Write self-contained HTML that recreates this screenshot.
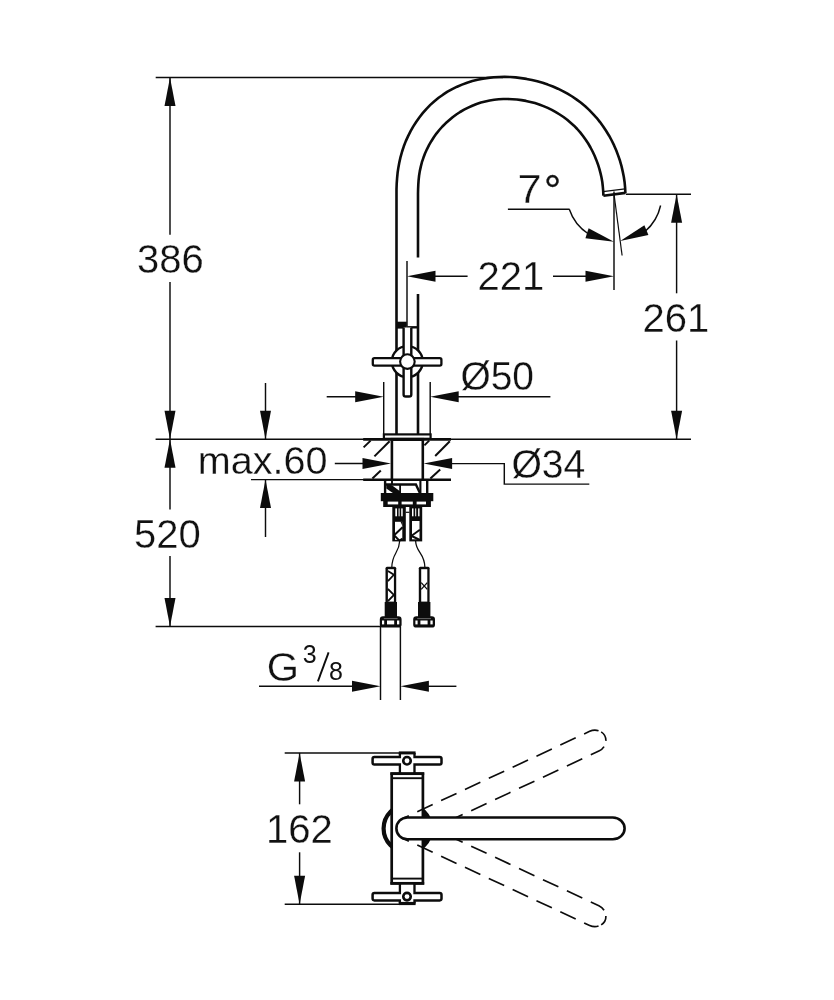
<!DOCTYPE html>
<html lang="en"><head><meta charset="utf-8"><title>Dimensional drawing</title>
<style>
html,body{margin:0;padding:0;background:#fff;}
body{width:834px;height:1000px;overflow:hidden;}
svg{display:block;will-change:transform;}
svg text{font-family:"Liberation Sans",Arial,Helvetica,sans-serif;fill:#111;stroke:#fff;stroke-width:0.3px;stroke-linejoin:round;}
</style></head><body>
<svg width="834" height="1000" viewBox="0 0 834 1000">
<rect width="834" height="1000" fill="#fff"/>
<g id="dimension-lines" stroke="#0c0c0c" fill="none" stroke-linecap="butt">
<line x1="155.7" y1="77.5" x2="503.0" y2="77.5" stroke-width="1.45"/>
<line x1="155.6" y1="439.3" x2="691.0" y2="439.3" stroke-width="1.45"/>
<line x1="155.6" y1="626.4" x2="381.0" y2="626.4" stroke-width="1.45"/>
<line x1="170.0" y1="77.5" x2="170.0" y2="234.8" stroke-width="1.45"/>
<line x1="170.0" y1="282.0" x2="170.0" y2="509.5" stroke-width="1.45"/>
<line x1="170.0" y1="556.0" x2="170.0" y2="626.4" stroke-width="1.45"/>
<line x1="265.5" y1="383.0" x2="265.5" y2="439.3" stroke-width="1.45"/>
<line x1="265.5" y1="479.6" x2="265.5" y2="537.0" stroke-width="1.45"/>
<line x1="251.0" y1="479.6" x2="364.0" y2="479.6" stroke-width="1.45"/>
<line x1="334.8" y1="463.5" x2="370.0" y2="463.5" stroke-width="1.45"/>
<line x1="383.7" y1="382.0" x2="383.7" y2="434.0" stroke-width="1.45"/>
<line x1="430.2" y1="382.0" x2="430.2" y2="434.0" stroke-width="1.45"/>
<line x1="326.7" y1="396.7" x2="360.0" y2="396.7" stroke-width="1.45"/>
<line x1="455.0" y1="396.7" x2="550.4" y2="396.7" stroke-width="1.45"/>
<polyline points="448,463.6 504.3,463.6 504.3,484.1 589.3,484.1" fill="none" stroke-width="1.45"/>
<line x1="407.0" y1="261.0" x2="407.0" y2="326.0" stroke-width="1.45"/>
<line x1="614.0" y1="191.6" x2="614.0" y2="290.0" stroke-width="1.45"/>
<line x1="430.0" y1="276.3" x2="467.6" y2="276.3" stroke-width="1.45"/>
<line x1="553.0" y1="276.3" x2="590.0" y2="276.3" stroke-width="1.45"/>
<line x1="626.0" y1="194.3" x2="691.0" y2="194.3" stroke-width="1.45"/>
<line x1="676.6" y1="194.0" x2="676.6" y2="293.3" stroke-width="1.45"/>
<line x1="676.6" y1="340.5" x2="676.6" y2="439.0" stroke-width="1.45"/>
<line x1="614.0" y1="194.0" x2="622.1" y2="255.5" stroke-width="1.20"/>
<line x1="507.9" y1="209.3" x2="569.6" y2="209.3" stroke-width="1.45"/>
<path d="M569.3,209.3 A47.4,47.4 0 0 0 588.5,234.0" fill="none" stroke-width="1.45"/>
<path d="M660.6,205.5 A48,48 0 0 1 645.0,231.5" fill="none" stroke-width="1.45"/>
<line x1="380.5" y1="627.0" x2="380.5" y2="700.0" stroke-width="1.45"/>
<line x1="400.4" y1="627.0" x2="400.4" y2="700.0" stroke-width="1.45"/>
<line x1="259.0" y1="686.3" x2="356.0" y2="686.3" stroke-width="1.45"/>
<line x1="425.0" y1="686.3" x2="456.4" y2="686.3" stroke-width="1.45"/>
<line x1="317.9" y1="681.3" x2="328.6" y2="652.4" stroke-width="1.90"/>
<line x1="284.7" y1="752.9" x2="400.0" y2="752.9" stroke-width="1.45"/>
<line x1="284.7" y1="904.3" x2="400.0" y2="904.3" stroke-width="1.45"/>
<line x1="299.6" y1="752.9" x2="299.6" y2="804.3" stroke-width="1.45"/>
<line x1="299.6" y1="852.3" x2="299.6" y2="904.3" stroke-width="1.45"/>
</g>
<g id="top-view" stroke="#0c0c0c" fill="#0c0c0c">
<circle cx="407.3" cy="828.4" r="23.7" fill="#fff" stroke-width="4.2"/>
<path d="M423,809 A25.8,25.8 0 0 1 423,847.8 Z" stroke="none"/>
<rect x="391.7" y="773.7" width="31.2" height="109.6" rx="0.0" fill="#fff" stroke-width="2.70"/>
<line x1="391.7" y1="778.2" x2="422.9" y2="778.2" stroke-width="1.90"/>
<line x1="391.7" y1="878.6" x2="422.9" y2="878.6" stroke-width="1.90"/>
<path d="M407.3,817.5 L613.6,817.5 A11.8,10.9 0 0 1 621.9,820.7" fill="none" stroke-width="1.65" stroke-dasharray="17 9.3" stroke-dashoffset="10.2" transform="rotate(-25 407.3 828.4)"/>
<path d="M407.3,839.3 L613.6,839.3 A11.8,10.9 0 0 0 620.2,837.4" fill="none" stroke-width="1.65" stroke-dasharray="17 9.4" stroke-dashoffset="13.8" transform="rotate(-25 407.3 828.4)"/>
<path d="M623.8,822.9 A11.8,10.9 0 0 1 624.3,833.0" fill="none" stroke-width="1.65" transform="rotate(-25 407.3 828.4)"/>
<path d="M407.3,817.5 L613.6,817.5 A11.8,10.9 0 0 1 621.9,820.7" fill="none" stroke-width="1.65" stroke-dasharray="17 9.3" stroke-dashoffset="10.2" transform="translate(0 1656.8) scale(1 -1) rotate(-25 407.3 828.4)"/>
<path d="M407.3,839.3 L613.6,839.3 A11.8,10.9 0 0 0 620.2,837.4" fill="none" stroke-width="1.65" stroke-dasharray="17 9.4" stroke-dashoffset="13.8" transform="translate(0 1656.8) scale(1 -1) rotate(-25 407.3 828.4)"/>
<path d="M623.8,822.9 A11.8,10.9 0 0 1 624.3,833.0" fill="none" stroke-width="1.65" transform="translate(0 1656.8) scale(1 -1) rotate(-25 407.3 828.4)"/>
<path d="M612.8,817.5 L407.3,817.5 A10.9,10.9 0 0 0 407.3,839.3 L612.8,839.3 A11.8,10.9 0 0 0 612.8,817.5 Z" fill="#fff" stroke-width="2.6"/>
<path d="M400.0,752.9 L400.0,757.0 L374.4,757.0 Q372.6,757.0 372.6,758.8 L372.6,762.8 Q372.6,764.6 374.4,764.6 L400.0,764.6 L400.0,773.7" fill="#fff" stroke-width="2.5"/>
<path d="M414.4,752.9 L414.4,757.0 L439.7,757.0 Q441.5,757.0 441.5,758.8 L441.5,762.8 Q441.5,764.6 439.7,764.6 L414.4,764.6 L414.4,773.7" fill="#fff" stroke-width="2.5"/>
<rect x="401.2" y="753.1" width="12.0" height="19.2" rx="0.0" fill="#fff" stroke-width="0.00" stroke="none"/>
<circle cx="407.0" cy="760.8" r="3.75" fill="#fff" stroke-width="2.6"/>
<path d="M400.0,883.3 L400.0,893.0 L374.4,893.0 Q372.6,893.0 372.6,894.8 L372.6,898.6 Q372.6,900.4 374.4,900.4 L400.0,900.4 L400.0,903.6" fill="#fff" stroke-width="2.5"/>
<path d="M414.4,883.3 L414.4,893.0 L439.7,893.0 Q441.5,893.0 441.5,894.8 L441.5,898.6 Q441.5,900.4 439.7,900.4 L414.4,900.4 L414.4,903.6" fill="#fff" stroke-width="2.5"/>
<rect x="401.2" y="883.5" width="12.0" height="18.7" rx="0.0" fill="#fff" stroke-width="0.00" stroke="none"/>
<circle cx="407.0" cy="896.6" r="3.75" fill="#fff" stroke-width="2.6"/>
<line x1="398.8" y1="752.9" x2="415.6" y2="752.9" stroke-width="3.00"/>
<line x1="398.8" y1="903.5" x2="415.6" y2="903.5" stroke-width="3.20"/>
<line x1="390.4" y1="773.7" x2="424.2" y2="773.7" stroke-width="2.70"/>
<line x1="390.4" y1="883.3" x2="424.2" y2="883.3" stroke-width="2.70"/>
</g>
<g id="side-view" stroke="#0c0c0c" fill="#0c0c0c">
<path d="M396.5,434 L396.5,260.0 L396.5,254.5 L396.5,249.1 L396.5,243.6 L396.5,238.2 L396.5,232.7 L396.5,227.3 L396.5,221.8 L396.5,216.4 L396.5,210.9 L396.5,205.5 L396.5,200.0 L396.5,194.5 L396.5,189.1 L396.7,183.7 L397.1,178.2 L397.6,172.8 L398.4,167.4 L399.4,162.1 L400.6,156.8 L402.1,151.5 L403.8,146.3 L405.8,141.1 L408.1,136.1 L410.6,131.2 L413.3,126.4 L416.3,121.7 L419.5,117.2 L422.9,112.9 L426.5,108.8 L430.3,104.9 L434.4,101.2 L438.6,97.8 L443.0,94.7 L447.5,91.7 L452.2,89.1 L457.1,86.7 L462.0,84.6 L467.1,82.7 L472.3,81.1 L477.5,79.8 L482.9,78.7 L488.3,77.9 L493.7,77.3 L499.2,77.0 L504.6,76.9 L510.1,77.0 L515.6,77.4 L521.1,78.1 L526.5,78.9 L531.9,80.0 L537.3,81.3 L542.6,82.8 L547.8,84.6 L552.9,86.5 L557.9,88.7 L562.8,91.1 L567.5,93.7 L572.2,96.5 L576.7,99.6 L581.0,102.8 L585.2,106.3 L589.1,109.9 L592.9,113.8 L596.6,117.8 L600.0,122.1 L603.2,126.5 L606.2,131.0 L609.1,135.7 L611.7,140.5 L614.1,145.4 L616.3,150.5 L618.2,155.6 L620.0,160.8 L621.5,166.1 L622.7,171.4 L623.8,176.8 L624.6,182.2 L625.1,187.6 L625.4,193.0" fill="none" stroke-width="2.60" stroke-linejoin="round"/>
<path d="M418.0,257.6 L418.0,253.0 L418.0,248.5 L418.0,243.9 L418.0,239.3 L418.0,234.8 L418.0,230.2 L418.0,225.7 L418.0,221.1 L418.0,216.5 L418.0,212.0 L418.0,207.4 L418.0,202.8 L418.0,198.3 L418.0,193.7 L418.1,189.1 L418.3,184.6 L418.6,180.1 L419.1,175.5 L419.8,171.1 L420.8,166.6 L421.9,162.2 L423.4,157.8 L425.0,153.5 L426.9,149.3 L429.0,145.2 L431.3,141.2 L433.8,137.3 L436.4,133.6 L439.3,130.0 L442.4,126.5 L445.6,123.3 L449.1,120.2 L452.6,117.2 L456.3,114.5 L460.1,112.0 L464.1,109.7 L468.2,107.6 L472.3,105.7 L476.6,104.0 L480.9,102.6 L485.3,101.5 L489.7,100.5 L494.2,99.8 L498.7,99.3 L503.3,99.0 L507.8,99.0 L512.4,99.2 L516.9,99.5 L521.5,100.1 L526.0,100.9 L530.4,101.9 L534.9,103.1 L539.2,104.5 L543.5,106.1 L547.7,107.9 L551.8,109.9 L555.8,112.1 L559.7,114.5 L563.5,117.0 L567.2,119.8 L570.6,122.7 L574.0,125.7 L577.2,129.0 L580.2,132.4 L583.0,136.0 L585.7,139.7 L588.2,143.5 L590.5,147.5 L592.6,151.5 L594.6,155.7 L596.3,159.9 L597.9,164.2 L599.3,168.6 L600.5,173.1 L601.5,177.5 L602.3,182.0 L602.8,186.5 L603.2,191.1 L603.4,195.6" fill="none" stroke-width="2.60" stroke-linejoin="round"/>
<line x1="418.0" y1="294.0" x2="418.0" y2="434.0" stroke-width="2.60"/>
<path d="M603.4,195.8 L625.6,192.9" fill="none" stroke-width="2.60"/>
<path d="M603.0,191.6 L625.0,188.8" fill="none" stroke-width="1.20"/>
<rect x="396.5" y="321.7" width="10.3" height="6.9" rx="0.0" fill="#0c0c0c" stroke-width="0.00" stroke="none"/>
<line x1="406.5" y1="327.3" x2="418.0" y2="327.3" stroke-width="2.40"/>
<circle cx="407.3" cy="361.6" r="15.5" fill="#fff" stroke-width="2.40"/>
<path d="M403.6,327.5 L403.6,394.4 Q403.6,396.5 405.8,396.5 L409.1,396.5 Q411.3,396.5 411.3,394.4 L411.3,327.5" fill="#fff" stroke-width="2.40"/>
<rect x="372.8" y="358.2" width="68.6" height="7.5" rx="1.6" fill="#fff" stroke-width="2.30"/>
<circle cx="407.4" cy="361.6" r="7.3" fill="#fff" stroke-width="2.10"/>
<rect x="383.9" y="434.4" width="46.7" height="4.4" rx="0.0" fill="#fff" stroke-width="2.20"/>
<rect x="390.6" y="437.9" width="33.5" height="3.1" rx="0.0" fill="#0c0c0c" stroke-width="0.00" stroke="none"/>
<line x1="363.2" y1="439.4" x2="451.0" y2="439.4" stroke-width="2.60"/>
<line x1="363.2" y1="479.8" x2="451.0" y2="479.8" stroke-width="2.60"/>
<line x1="391.9" y1="439.4" x2="391.9" y2="479.8" stroke-width="2.60"/>
<line x1="422.8" y1="439.4" x2="422.8" y2="479.8" stroke-width="2.60"/>
<path d="M363.6,447.4 L370.6,440.6" fill="none" stroke-width="2.00"/>
<path d="M374.4,456.4 L389.6,441.2" fill="none" stroke-width="2.00"/>
<path d="M372.4,478.4 L380.8,470.6" fill="none" stroke-width="2.00"/>
<path d="M424.4,445.4 L429.2,440.6" fill="none" stroke-width="2.00"/>
<path d="M435.2,456.0 L449.8,441.2" fill="none" stroke-width="2.00"/>
<path d="M430.4,478.4 L440.2,469.4" fill="none" stroke-width="2.00"/>
<line x1="385.1" y1="480.0" x2="385.1" y2="494.0" stroke-width="2.40"/>
<line x1="427.2" y1="480.0" x2="427.2" y2="494.0" stroke-width="2.40"/>
<line x1="392.0" y1="480.0" x2="392.0" y2="485.0" stroke-width="1.90"/>
<line x1="420.4" y1="480.0" x2="420.4" y2="493.5" stroke-width="2.10"/>
<path d="M385.3,484.5 L415.9,484.5 L420.0,493.2" fill="none" stroke-width="2.40"/>
<polygon points="386.3,484.5 391.9,485.2 401,492 401,493.4 393.6,493.4 386.3,488.5" stroke="none"/>
<line x1="400.1" y1="485.0" x2="400.1" y2="494.0" stroke-width="1.80"/>
<rect x="380.8" y="493.0" width="52.5" height="8.2" rx="0.0" fill="#0c0c0c" stroke-width="0.00" stroke="none"/>
<rect x="383.2" y="501.0" width="47.7" height="6.0" rx="0.0" fill="#0c0c0c" stroke-width="0.00" stroke="none"/>
<rect x="387.7" y="501.6" width="10.5" height="2.8" rx="0.0" fill="#fff" stroke-width="0.00" stroke="none"/>
<rect x="401.6" y="501.6" width="11.2" height="2.8" rx="0.0" fill="#fff" stroke-width="0.00" stroke="none"/>
<rect x="416.6" y="501.6" width="9.4" height="2.8" rx="0.0" fill="#fff" stroke-width="0.00" stroke="none"/>
<rect x="392.3" y="506.5" width="13.5" height="34.9" rx="0.0" fill="#0c0c0c" stroke-width="0.00" stroke="none"/>
<rect x="409.3" y="506.5" width="12.9" height="34.9" rx="0.0" fill="#0c0c0c" stroke-width="0.00" stroke="none"/>
<rect x="395.3" y="508.4" width="1.7" height="7.9" rx="0.0" fill="#fff" stroke-width="0.00" stroke="none"/>
<rect x="398.6" y="508.4" width="1.0" height="7.9" rx="0.0" fill="#fff" stroke-width="0.00" stroke="none"/>
<rect x="401.2" y="508.4" width="1.5" height="7.9" rx="0.0" fill="#fff" stroke-width="0.00" stroke="none"/>
<rect x="412.0" y="508.4" width="1.5" height="7.9" rx="0.0" fill="#fff" stroke-width="0.00" stroke="none"/>
<rect x="415.2" y="508.4" width="1.0" height="7.9" rx="0.0" fill="#fff" stroke-width="0.00" stroke="none"/>
<rect x="418.1" y="508.4" width="1.4" height="7.9" rx="0.0" fill="#fff" stroke-width="0.00" stroke="none"/>
<rect x="395.0" y="521.8" width="7.3" height="18.0" rx="0.0" fill="#fff" stroke-width="0.00" stroke="none"/>
<rect x="412.0" y="521.0" width="7.5" height="18.3" rx="0.0" fill="#fff" stroke-width="0.00" stroke="none"/>
<path d="M394.6,534.8 L402.6,527.2" fill="none" stroke-width="2.00"/>
<path d="M394.6,535.8 L399.4,540.6 L402.6,538.6" fill="none" stroke-width="2.00"/>
<polygon points="400.4,521.5 402.5,521.5 402.5,526" stroke="none"/>
<path d="M411.6,535.8 L419.9,529.8" fill="none" stroke-width="2.00"/>
<path d="M411.6,536.0 L419.9,540.0" fill="none" stroke-width="2.00"/>
<line x1="405.6" y1="512.3" x2="409.5" y2="512.3" stroke-width="1.20"/>
<path d="M399.7,541 C399.2,553 392,553 391.8,567.5" fill="none" stroke-width="1.25"/>
<path d="M415.6,541 C416.2,553 424.7,553 424.9,567.5" fill="none" stroke-width="1.3"/>
<rect x="385.5" y="566.8" width="10.7" height="51.2" rx="1.5" fill="#0c0c0c" stroke-width="0.00" stroke="none"/>
<rect x="384.7" y="602.0" width="12.3" height="16.0" rx="0.0" fill="#0c0c0c" stroke-width="0.00" stroke="none"/>
<rect x="387.9" y="569.2" width="6.0" height="32.4" rx="0.0" fill="#fff" stroke-width="0.00" stroke="none"/>
<path d="M387.9,571.0 L393.9,574.8 L387.9,581.2" fill="none" stroke-width="1.80"/>
<path d="M387.9,589.0 L393.9,594.9 L387.9,601.2" fill="none" stroke-width="1.80"/>
<rect x="379.8" y="616.2" width="21.8" height="11.4" rx="3.2" fill="#0c0c0c" stroke-width="0.00" stroke="none"/>
<rect x="382.0" y="620.5" width="2.2" height="3.9" rx="0.0" fill="#fff" stroke-width="0.00" stroke="none"/>
<rect x="387.0" y="620.5" width="7.2" height="3.9" rx="0.0" fill="#fff" stroke-width="0.00" stroke="none"/>
<rect x="397.0" y="620.5" width="2.3" height="3.9" rx="0.0" fill="#fff" stroke-width="0.00" stroke="none"/>
<line x1="383.8" y1="618.6" x2="397.6" y2="618.6" stroke-width="0.70" stroke="#888"/>
<rect x="418.8" y="566.8" width="10.8" height="51.2" rx="1.5" fill="#0c0c0c" stroke-width="0.00" stroke="none"/>
<rect x="418.0" y="602.0" width="12.4" height="16.0" rx="0.0" fill="#0c0c0c" stroke-width="0.00" stroke="none"/>
<rect x="421.2" y="569.2" width="6.1" height="32.4" rx="0.0" fill="#fff" stroke-width="0.00" stroke="none"/>
<path d="M421.2,582.6 L427.3,589.4" fill="none" stroke-width="1.30"/>
<path d="M427.3,582.6 L421.2,589.4" fill="none" stroke-width="1.30"/>
<rect x="413.2" y="616.2" width="21.8" height="11.4" rx="3.2" fill="#0c0c0c" stroke-width="0.00" stroke="none"/>
<rect x="415.4" y="620.5" width="2.2" height="3.9" rx="0.0" fill="#fff" stroke-width="0.00" stroke="none"/>
<rect x="420.4" y="620.5" width="7.2" height="3.9" rx="0.0" fill="#fff" stroke-width="0.00" stroke="none"/>
<rect x="430.4" y="620.5" width="2.3" height="3.9" rx="0.0" fill="#fff" stroke-width="0.00" stroke="none"/>
<line x1="417.2" y1="618.6" x2="431.0" y2="618.6" stroke-width="0.70" stroke="#888"/>
</g>
<g id="arrowheads" fill="#0c0c0c" stroke="none">
<polygon points="170.0,77.5 175.5,106.0 164.5,106.0"/>
<polygon points="170.0,439.3 164.5,410.8 175.5,410.8"/>
<polygon points="170.0,439.3 175.5,467.8 164.5,467.8"/>
<polygon points="170.0,626.4 164.5,597.9 175.5,597.9"/>
<polygon points="265.5,439.3 260.0,410.8 271.0,410.8"/>
<polygon points="265.5,479.6 271.0,508.1 260.0,508.1"/>
<polygon points="391.0,463.5 362.5,469.0 362.5,458.0"/>
<polygon points="383.7,396.7 355.2,402.2 355.2,391.2"/>
<polygon points="430.2,396.7 458.7,391.2 458.7,402.2"/>
<polygon points="423.6,463.6 452.1,458.1 452.1,469.1"/>
<polygon points="407.0,276.3 435.5,270.8 435.5,281.8"/>
<polygon points="614.0,276.3 585.5,281.8 585.5,270.8"/>
<polygon points="676.6,194.3 682.1,222.8 671.1,222.8"/>
<polygon points="676.6,439.3 671.1,410.8 682.1,410.8"/>
<polygon points="614.0,241.8 585.4,238.3 588.6,228.2"/>
<polygon points="620.2,240.9 644.4,225.3 648.4,235.1"/>
<polygon points="380.5,686.3 352.0,691.8 352.0,680.8"/>
<polygon points="400.4,686.3 428.9,680.8 428.9,691.8"/>
<polygon points="299.6,752.9 305.1,781.4 294.1,781.4"/>
<polygon points="299.6,904.3 294.1,875.8 305.1,875.8"/>
</g>
<g id="labels">
<text x="137.0" y="273.3" font-size="40.0">386</text>
<text x="134.0" y="547.6" font-size="40.0">520</text>
<text x="197.7" y="474.1" font-size="39.6">max.60</text>
<text x="460.4" y="390.1" font-size="40.0" textLength="73.6" lengthAdjust="spacingAndGlyphs">Ø50</text>
<text x="511.4" y="477.7" font-size="40.0" textLength="74.0" lengthAdjust="spacingAndGlyphs">Ø34</text>
<text x="477.4" y="290.3" font-size="40.0">221</text>
<text x="642.5" y="331.5" font-size="40.0">261</text>
<text x="517.4" y="203.0" font-size="40.0" textLength="24.1" lengthAdjust="spacingAndGlyphs">7</text>
<text x="543.9" y="205.3" font-size="43.0" style="stroke:#111;stroke-width:0.35px">°</text>
<text x="266.8" y="681.2" font-size="41.5">G</text>
<text x="302.7" y="663.3" font-size="25.0" style="stroke:none">3</text>
<text x="328.9" y="680.4" font-size="25.0" style="stroke:none">8</text>
<text x="266.0" y="842.6" font-size="40.0">162</text>
</g>
</svg>
</body></html>
